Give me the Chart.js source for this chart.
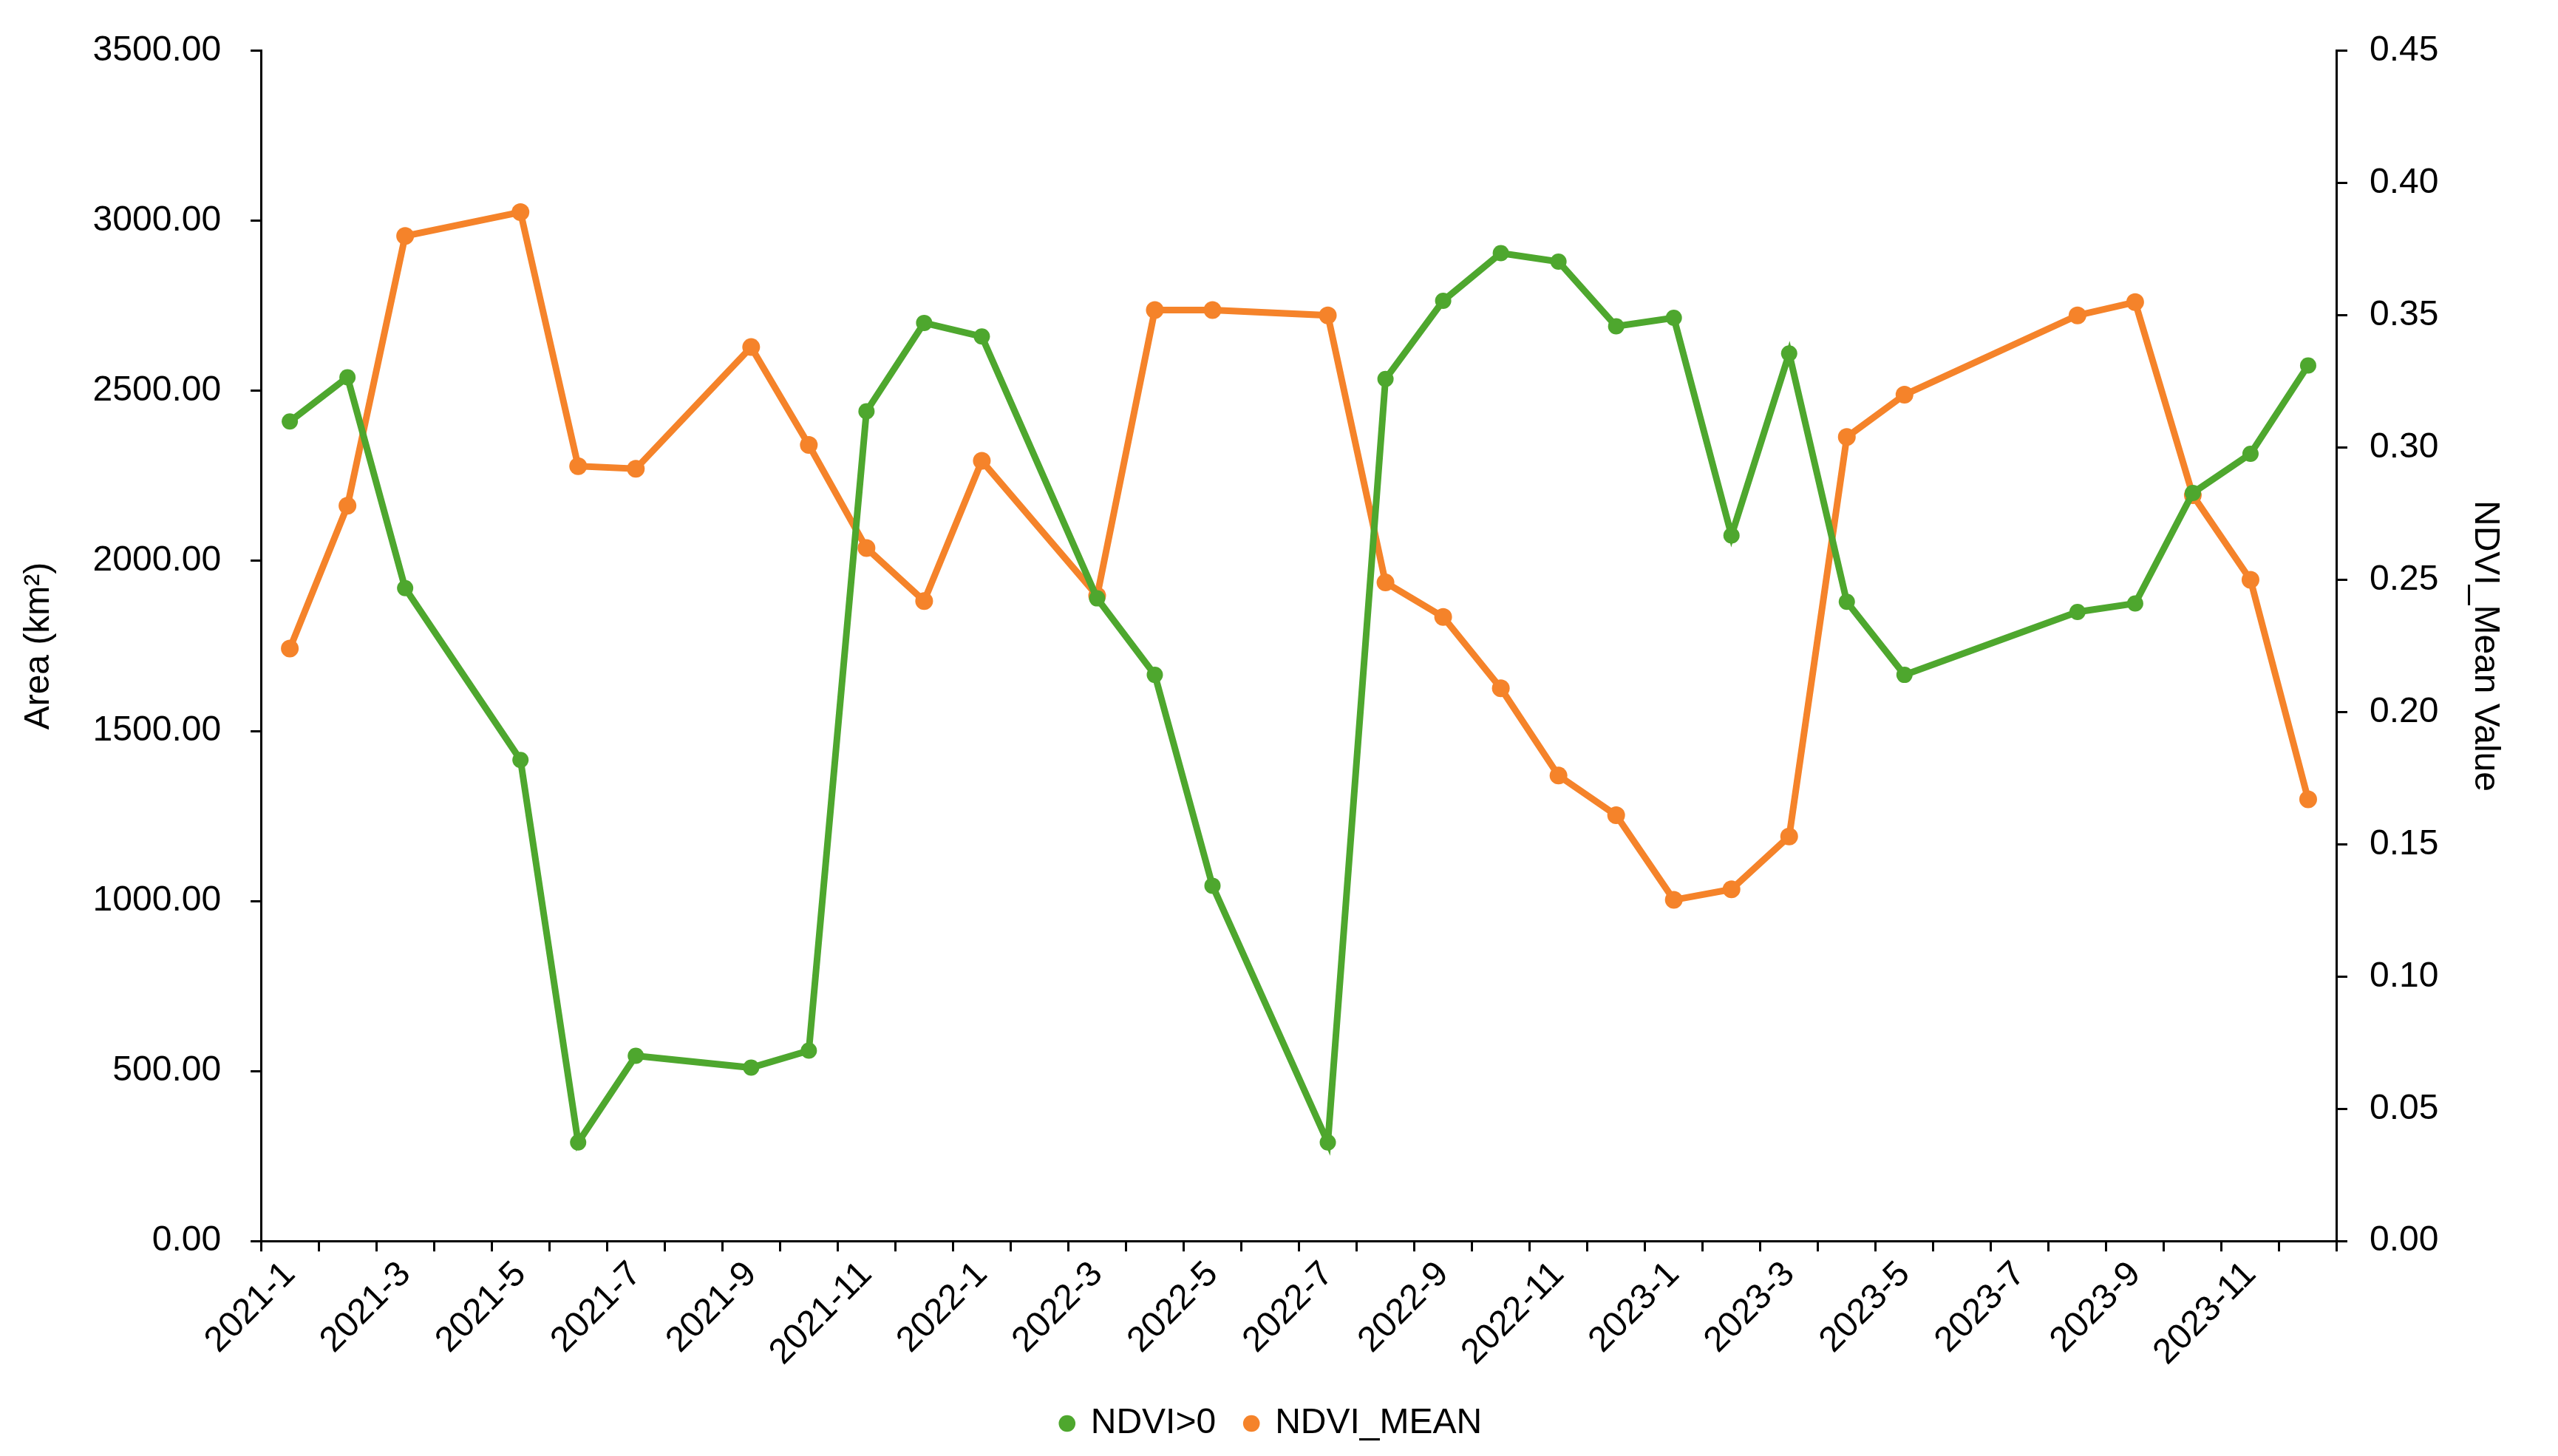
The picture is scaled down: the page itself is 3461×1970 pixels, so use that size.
<!DOCTYPE html>
<html>
<head>
<meta charset="utf-8">
<script src="https://cdn.jsdelivr.net/npm/chart.js@4/dist/chart.umd.min.js"></script>
<style>
  body { margin: 0; background: #fff; }
  canvas { display: block; }
</style>
</head>
<body>
<canvas id="myChart" width="3461" height="1970"></canvas>
<script>
// months 2021-1 .. 2023-12
const labels = [];
for (let y = 2021; y <= 2023; y++) {
    for (let m = 1; m <= 12; m++) labels.push(y + '-' + m);
}

// NDVI>0 area (km2), null where no observation
const areaValues = [2410, 2540, 1920, null, 1415, 290, 545, null, 510, 560, 2440, 2700,
    2660, null, 1890, 1665, 1045, null, 290, 2535, 2765, 2905, 2880, 2690,
    2715, 2075, 2610, 1880, 1665, null, null, 1850, 1875, 2200, 2315, 2575];

// NDVI mean value
const meanValues = [0.224, 0.278, 0.380, null, 0.389, 0.293, 0.292, null, 0.338, 0.301, 0.262, 0.242,
    0.295, null, 0.244, 0.352, 0.352, null, 0.350, 0.249, 0.236, 0.209, 0.176, 0.161,
    0.129, 0.133, 0.153, 0.304, 0.320, null, null, 0.350, 0.355, 0.282, 0.250, 0.167];

const green = '#4ea72e';
const orange = '#f5832a';
const tickFont = { family: 'Liberation Sans', size: 48 };

const ctx = document.getElementById('myChart');

new Chart(ctx, {
    type: 'line',
    data: {
        labels: labels,
        datasets: [{
            label: 'NDVI>0',
            data: areaValues,
            yAxisID: 'y',
            borderColor: green,
            backgroundColor: green,
            borderWidth: 9,
            pointRadius: 11,
            pointBorderWidth: 0,
            spanGaps: true,
            tension: 0
        }, {
            label: 'NDVI_MEAN',
            data: meanValues,
            yAxisID: 'y1',
            borderColor: orange,
            backgroundColor: orange,
            borderWidth: 9,
            pointRadius: 12,
            pointBorderWidth: 0,
            spanGaps: true,
            tension: 0
        }]
    },
    options: {
        responsive: false,
        animation: false,
        devicePixelRatio: 1,
        layout: { padding: { left: 20, right: 40, top: 40, bottom: 10 } },
        plugins: {
            legend: {
                position: 'bottom',
                labels: {
                    font: { family: 'Liberation Sans', size: 48 },
                    color: '#000',
                    usePointStyle: true,
                    pointStyle: 'circle',
                    boxWidth: 16,
                    boxHeight: 16,
                    padding: 40
                }
            },
            tooltip: { enabled: false }
        },
        scales: {
            x: {
                offset: true,
                border: { display: true, color: '#000', width: 3 },
                grid: { display: true, drawOnChartArea: false, drawTicks: true, tickLength: 14, color: '#000', lineWidth: 3, offset: true },
                ticks: {
                    autoSkip: false,
                    maxRotation: 45,
                    minRotation: 45,
                    color: '#000',
                    font: tickFont,
                    callback: function (v, i) { return i % 2 === 0 ? labels[i] : ''; }
                }
            },
            y: {
                position: 'left',
                min: 0,
                max: 3500,
                border: { display: true, color: '#000', width: 3 },
                grid: { display: true, drawOnChartArea: false, tickLength: 14, color: '#000', lineWidth: 3 },
                ticks: {
                    stepSize: 500,
                    color: '#000',
                    font: tickFont,
                    padding: 40,
                    callback: v => v.toFixed(2)
                },
                title: {
                    display: true,
                    text: 'Area (km²)',
                    color: '#000',
                    font: tickFont
                }
            },
            y1: {
                position: 'right',
                min: 0,
                max: 0.45,
                border: { display: true, color: '#000', width: 3 },
                grid: { display: true, drawOnChartArea: false, tickLength: 14, color: '#000', lineWidth: 3 },
                ticks: {
                    stepSize: 0.05,
                    color: '#000',
                    font: tickFont,
                    padding: 30,
                    callback: v => v.toFixed(2)
                },
                title: {
                    display: true,
                    text: 'NDVI_Mean Value',
                    color: '#000',
                    font: tickFont,
                    padding: { top: 30 }
                }
            }
        }
    }
});
</script>
</body>
</html>
